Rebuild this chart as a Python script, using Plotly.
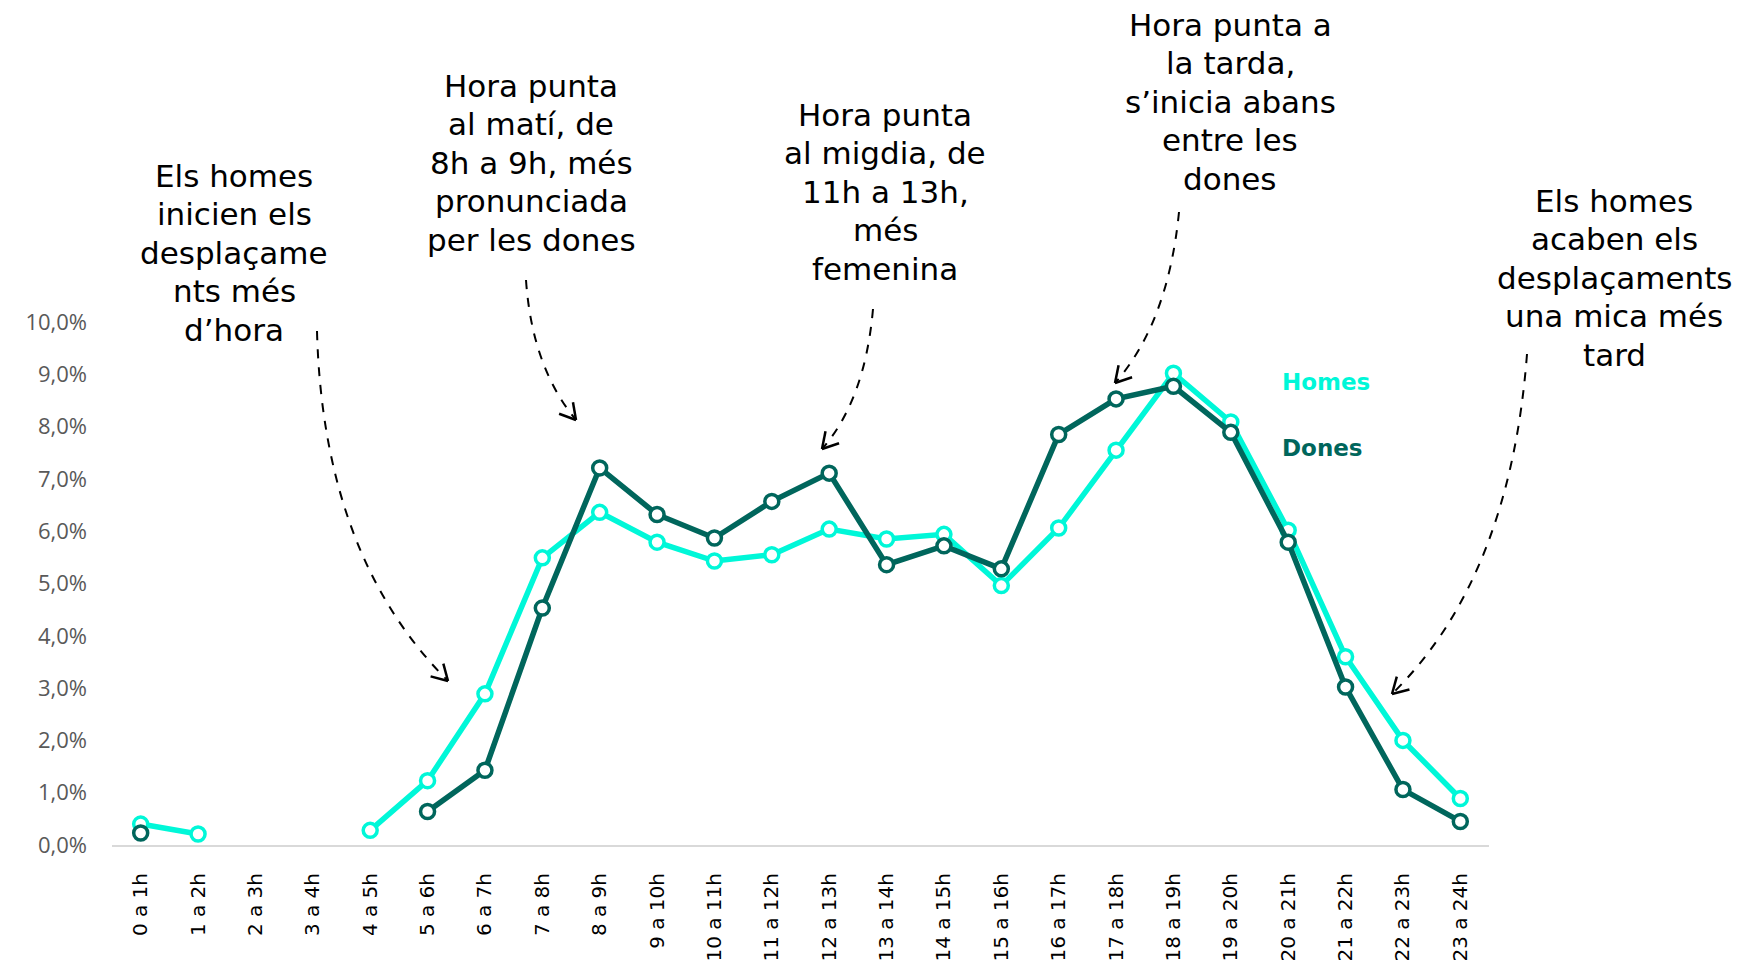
import math
import plotly.graph_objects as go

# hourly share of trips (%), by sex
franges = ["0 a 1h", "1 a 2h", "2 a 3h", "3 a 4h", "4 a 5h", "5 a 6h", "6 a 7h",
           "7 a 8h", "8 a 9h", "9 a 10h", "10 a 11h", "11 a 12h", "12 a 13h",
           "13 a 14h", "14 a 15h", "15 a 16h", "16 a 17h", "17 a 18h", "18 a 19h",
           "19 a 20h", "20 a 21h", "21 a 22h", "22 a 23h", "23 a 24h"]
homes = [0.40, 0.21, None, None, 0.28, 1.23, 2.89, 5.49, 6.36, 5.79, 5.43, 5.55,
         6.04, 5.85, 5.94, 4.96, 6.06, 7.55, 9.02, 8.09, 6.02, 3.60, 2.00, 0.89]
dones = [0.23, None, None, None, None, 0.64, 1.43, 4.53, 7.21, 6.32, 5.87, 6.57,
         7.11, 5.36, 5.72, 5.28, 7.85, 8.53, 8.77, 7.89, 5.79, 3.02, 1.06, 0.45]
yticks = list(range(0, 11))
ytext = [f"{v:.1f}%".replace(".", ",") for v in yticks]

notes = [
    ["Els homes", "inicien els", "desplaçame", "nts més", "d’hora"],
    ["Hora punta", "al matí, de", "8h a 9h, més", "pronunciada", "per les dones"],
    ["Hora punta", "al migdia, de", "11h a 13h,", "més", "femenina"],
    ["Hora punta a", "la tarda,", "s’inicia abans", "entre les", "dones"],
    ["Els homes", "acaben els", "desplaçaments", "una mica més", "tard"],
]

# page is drawn with an 8px body margin
OFF = 8
PW, PH = 1744, 973
W, H = PW - 2 * OFF, PH - 2 * OFF
ML, MR, MT, MB = 112 - OFF, PW - 1489 - OFF, 322 - OFF, PH - 845 - OFF
C_HOMES = "#00F7D8"
C_DONES = "#00665C"
FONT = "Century Gothic, DejaVu Sans, sans-serif"


def px(x, y):
    # page pixel position -> paper coordinates
    x, y = x - OFF, y - OFF
    return (x - ML) / (W - ML - MR), (H - MB - y) / (H - MT - MB)


fig = go.Figure()
fig.add_trace(go.Scatter(
    x=franges, y=homes, name="Homes", mode="lines+markers",
    line=dict(color=C_HOMES, width=5.5),
    marker=dict(symbol="circle", size=14, color="white",
                line=dict(color=C_HOMES, width=3.5)),
    connectgaps=False, cliponaxis=False))
fig.add_trace(go.Scatter(
    x=franges, y=dones, name="Dones", mode="lines+markers",
    line=dict(color=C_DONES, width=5.5),
    marker=dict(symbol="circle", size=14, color="white",
                line=dict(color=C_DONES, width=3.5)),
    connectgaps=False, cliponaxis=False))

# text callouts: centre x and first line centre y (page pixels), one line each
note_pos = [(234, 176), (531, 86), (885, 115), (1230, 25), (1614, 201)]
LINE = 38.4
for lines, (cx, cy) in zip(notes, note_pos):
    for i, ln in enumerate(lines):
        x, y = px(cx, cy + i * LINE)
        fig.add_annotation(x=x, y=y, xref="paper", yref="paper", text=ln,
                           showarrow=False, xanchor="center", yanchor="middle",
                           borderpad=0,
                           font=dict(family=FONT, size=31, color="black"))

# curved dashed arrows: start, control, end (page pixels)
arrows = [
    ((317, 331), (323, 556), (448, 681)),
    ((526, 280), (532, 367), (576, 420)),
    ((873, 309), (865, 400), (822, 449)),
    ((1179, 212), (1168, 323), (1115, 383)),
    ((1527, 354), (1510, 578), (1392, 694)),
]
for (s, c, e) in arrows:
    sx, sy = px(*s)
    cx, cy = px(*c)
    ex, ey = px(*e)
    fig.add_shape(type="path", xref="paper", yref="paper",
                  path=f"M {sx},{sy} Q {cx},{cy} {ex},{ey}",
                  line=dict(color="black", width=2, dash="dash"))
    ang = math.atan2(e[1] - c[1], e[0] - c[0])
    for d in (math.radians(30), -math.radians(30)):
        hx = e[0] - 18 * math.cos(ang + d)
        hy = e[1] - 18 * math.sin(ang + d)
        x0, y0 = px(e[0], e[1])
        x1, y1 = px(hx, hy)
        fig.add_shape(type="line", xref="paper", yref="paper",
                      x0=x0, y0=y0, x1=x1, y1=y1,
                      line=dict(color="black", width=2.5))

# series labels instead of a legend
for name, col, yy in [("Homes", C_HOMES, 382), ("Dones", C_DONES, 448)]:
    x, y = px(1280, yy)
    fig.add_annotation(x=x, y=y, xref="paper", yref="paper", text=f"<b>{name}</b>",
                       showarrow=False, xanchor="left", yanchor="middle",
                       font=dict(family=FONT, size=23, color=col))

fig.update_layout(
    width=W, height=H,
    margin=dict(l=ML, r=MR, t=MT, b=MB, autoexpand=False),
    plot_bgcolor="white", paper_bgcolor="white",
    showlegend=False,
)
fig.update_xaxes(
    type="category", range=[-0.5, len(franges) - 0.5], tickangle=-90,
    showgrid=False, showline=True, linecolor="#D9D9D9", linewidth=2,
    ticks="", ticklabelstandoff=18, automargin=False,
    tickfont=dict(family=FONT, size=20, color="black"),
)
fig.update_yaxes(
    range=[0, 10], tickvals=yticks, ticktext=ytext,
    showgrid=False, zeroline=False, showline=False,
    ticklabelstandoff=24, automargin=False,
    tickfont=dict(family="Open Sans, sans-serif", size=22, color="#595959"),
)

fig.write_html("out.html")
